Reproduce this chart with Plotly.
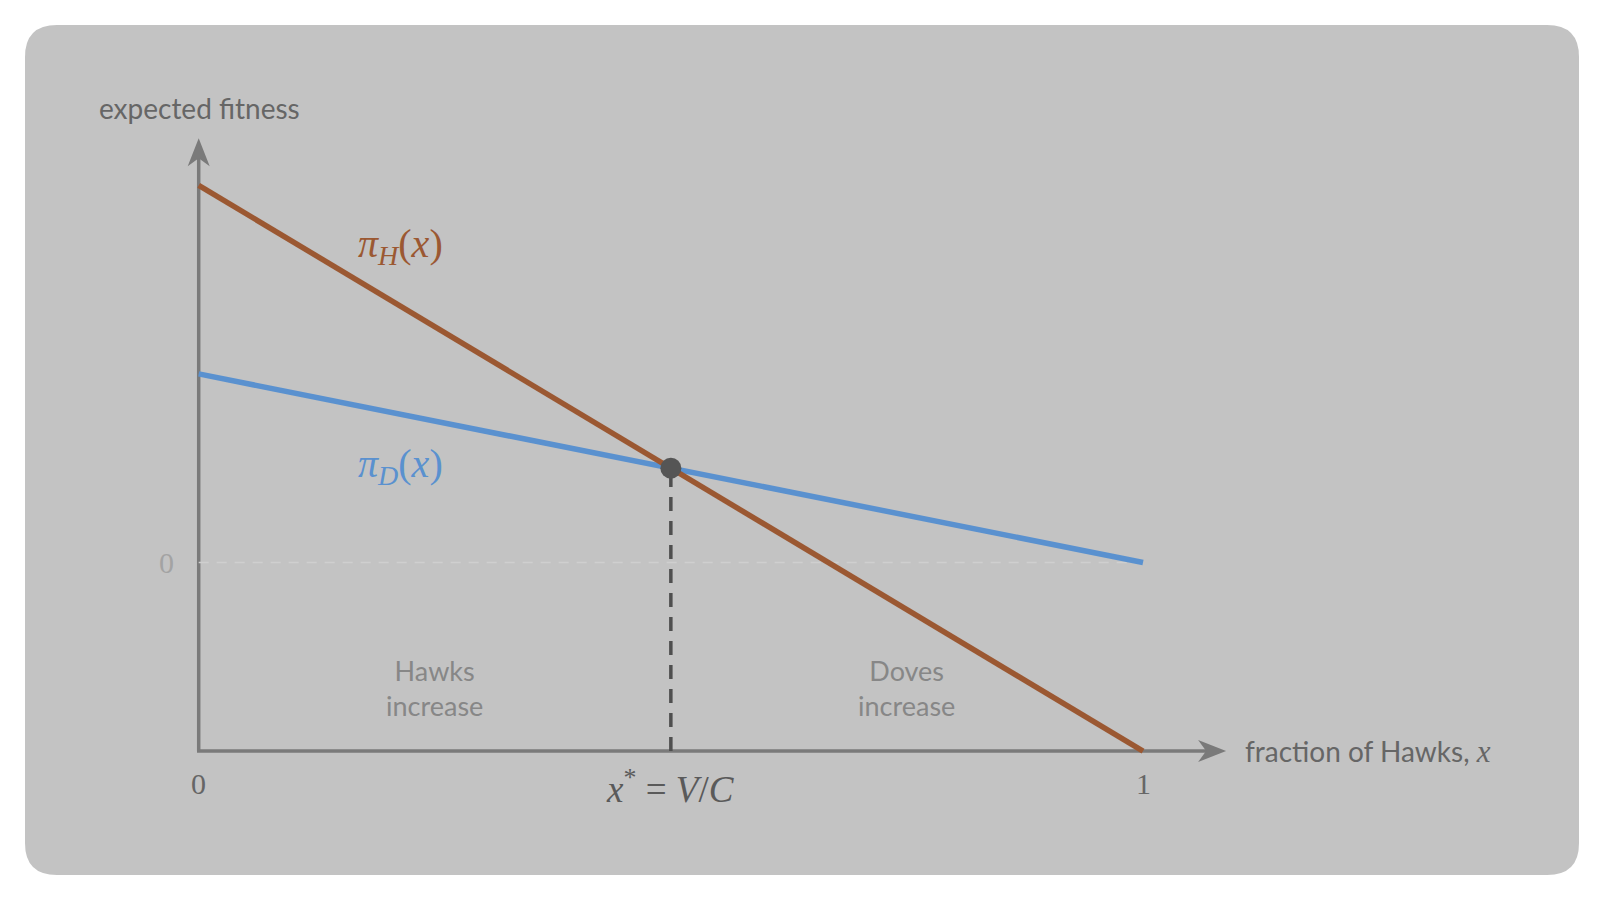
import plotly.graph_objects as go

# ---- data ----
x_frac = [0.0, 1.0]
hawk_fitness = [2.0, -1.0]
dove_fitness = [1.0, 0.0]
ess_x = 0.5
ess_y = 0.5
x_tick_vals = [0.0, 1.0]
x_tick_text = ["0", "1"]
y_tick_vals = [0.0]
y_tick_text = ["0"]

AXIS_Y = min(hawk_fitness)
X_ARROW = 1.088
Y_ARROW = 2.25

# figure sits inside the page's 8px body margin
W, H = 1588, 884
X_RANGE = [-0.20195, 1.47971]
Y_RANGE = [-1.7471, 2.9401]

HAWK_C = "#9b5832"
DOVE_C = "#5a91cf"
AXIS_C = "#7a7a7a"
BG = "#c3c3c3"
SANS = "Lato, 'Open Sans', sans-serif"
SERIF = "'Liberation Serif', 'DejaVu Serif', serif"

fig = go.Figure()

# zero reference line
fig.add_trace(go.Scatter(x=x_frac, y=[y_tick_vals[0]] * 2, mode="lines",
                         line=dict(color="#cfcfcf", width=1.5, dash="10px,8px"),
                         hoverinfo="skip", showlegend=False))
# ESS dashed drop line
fig.add_trace(go.Scatter(x=[ess_x, ess_x], y=[AXIS_Y, ess_y], mode="lines",
                         line=dict(color="#4f4f4f", width=3.5, dash="14px,10px"),
                         hoverinfo="skip", showlegend=False))
# dove line
fig.add_trace(go.Scatter(x=x_frac, y=dove_fitness, mode="lines",
                         line=dict(color=DOVE_C, width=5.5),
                         hoverinfo="skip", showlegend=False))
# hawk line
fig.add_trace(go.Scatter(x=x_frac, y=hawk_fitness, mode="lines",
                         line=dict(color=HAWK_C, width=5.5),
                         hoverinfo="skip", showlegend=False))
# ESS point
fig.add_trace(go.Scatter(x=[ess_x], y=[ess_y], mode="markers",
                         marker=dict(color="#555555", size=21, line=dict(width=0)),
                         hoverinfo="skip", showlegend=False))

shapes = []
# rounded background panel (paper coords)
x0, x1 = 17 / W, 1571 / W
y0, y1 = 1 - 867 / H, 1 - 17 / H
rx, ry = 32 / W, 32 / H
path = (f"M {x0+rx} {y0} L {x1-rx} {y0} Q {x1} {y0} {x1} {y0+ry} "
        f"L {x1} {y1-ry} Q {x1} {y1} {x1-rx} {y1} "
        f"L {x0+rx} {y1} Q {x0} {y1} {x0} {y1-ry} "
        f"L {x0} {y0+ry} Q {x0} {y0} {x0+rx} {y0} Z")
shapes.append(dict(type="path", path=path, xref="paper", yref="paper",
                   fillcolor=BG, line=dict(width=0), layer="below"))
# axes
shapes.append(dict(type="line", xref="x", yref="y", x0=-0.0018, y0=AXIS_Y, x1=X_ARROW - 0.015, y1=AXIS_Y,
                   line=dict(color=AXIS_C, width=3.5), layer="below"))
shapes.append(dict(type="line", xref="x", yref="y", x0=0, y0=AXIS_Y, x1=0, y1=Y_ARROW - 0.08,
                   line=dict(color=AXIS_C, width=3.5), layer="below"))
# arrow heads (pixel-sized, anchored at the arrow tips)
shapes.append(dict(type="path", xref="x", yref="y", xsizemode="pixel", ysizemode="pixel",
                   xanchor=X_ARROW, yanchor=AXIS_Y,
                   path="M 0 0 L -28 11 L -20 0 L -28 -11 Z",
                   fillcolor=AXIS_C, line=dict(width=0), layer="below"))
shapes.append(dict(type="path", xref="x", yref="y", xsizemode="pixel", ysizemode="pixel",
                   xanchor=0, yanchor=Y_ARROW,
                   path="M 0 0 L -11 -28 L 0 -20 L 11 -28 Z",
                   fillcolor=AXIS_C, line=dict(width=0), layer="below"))

ann = []
def A(x, y, text, size, color, family, xanchor="center", yanchor="middle"):
    ann.append(dict(x=x, y=y, xref="x", yref="y", text=text, showarrow=False,
                    font=dict(size=size, color=color, family=family),
                    xanchor=xanchor, yanchor=yanchor))

A(0.2132, 1.678, "<i>π</i><sub><i>H</i></sub>(<i>x</i>)", 40, HAWK_C, SERIF)
A(0.2132, 0.512, "<i>π</i><sub><i>D</i></sub>(<i>x</i>)", 40, DOVE_C, SERIF)
A(ess_x / 2, -0.665, "Hawks<br>increase", 27, "#878787", SANS)
A((ess_x + x_frac[1]) / 2, -0.665, "Doves<br>increase", 27, "#878787", SANS)
A(ess_x, -1.19, "<i>x</i><sup>*</sup>&nbsp;=&nbsp;<i>V</i>/<i>C</i>", 37, "#5a5a5a", SERIF)
for v, t in zip(x_tick_vals, x_tick_text):
    A(v, -1.17, t, 30, "#666666", SERIF)
for v, t in zip(y_tick_vals, y_tick_text):
    A(-0.0346, v, t, 30, "#a3a3a3", SERIF)
ann.append(dict(x=1.1059, y=AXIS_Y, xref="x", yref="y", showarrow=False,
                text="fraction of Hawks, <span style='font-family:Liberation Serif;font-size:31px'><i>x</i></span>",
                font=dict(size=28, color="#666666", family=SANS),
                xanchor="left", yanchor="middle"))
ann.append(dict(x=-0.1074, y=2.41, xref="x", yref="y", showarrow=False,
                text="expected fitness", font=dict(size=28, color="#666666", family=SANS),
                xanchor="left", yanchor="middle"))

fig.update_layout(
    width=W, height=H, margin=dict(l=0, r=0, t=0, b=0),
    paper_bgcolor="white", plot_bgcolor="rgba(0,0,0,0)",
    xaxis=dict(range=X_RANGE, visible=False, fixedrange=True),
    yaxis=dict(range=Y_RANGE, visible=False, fixedrange=True),
    shapes=shapes, annotations=ann, showlegend=False,
)
fig.write_html("out.html")
